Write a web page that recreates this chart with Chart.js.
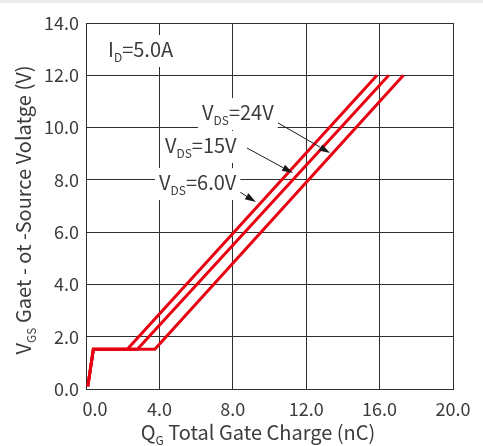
<!DOCTYPE html>
<html>
<head>
<meta charset="utf-8">
<script src="https://cdn.jsdelivr.net/npm/chart.js@4.4.1/dist/chart.umd.min.js"></script>
<style>
  html, body { margin: 0; padding: 0; background: #fff; }
  #wrap { position: relative; width: 483px; height: 446px; }
  #strip { position: absolute; left: 0; top: 0; width: 483px; height: 3px; background: #ebebeb; }
  #gateChart { position: absolute; left: 0; top: 0; }
</style>
</head>
<body>
<div id="wrap">
  <div id="strip"></div>
  <canvas id="gateChart" width="483" height="446"></canvas>
</div>
<script>
// Gate charge curves (Qg in nC, Vgs in V)
const vgsPoints = [0.1, 1.52, 1.52, 12.0];
const qg6V  = [0.1, 0.4, 2.25, 15.86];
const qg15V = [0.1, 0.4, 2.8, 16.5];
const qg24V = [0.1, 0.4, 3.75, 17.3];

const xTicks = [0, 4, 8, 12, 16, 20];
const yTicks = [0, 2, 4, 6, 8, 10, 12, 14];

// Annotation text (parts: [text, isSubscript]) and where it sits, in data units
const noteParts = [
    [['I', false], ['D', true], ['=5.0A', false]],
    [['V', false], ['DS', true], ['=24V', false]],
    [['V', false], ['DS', true], ['=15V', false]],
    [['V', false], ['DS', true], ['=6.0V', false]]
];
const noteX = [1.2, 6.32, 4.3, 3.98];
const noteY = [12.7, 10.29, 9.03, 7.61];   // baseline

// Arrows from label to curve
const arrowFromX = [10.46, 8.77, 8.12];
const arrowFromY = [10.18, 9.22, 7.65];
const arrowToX   = [13.3, 11.28, 9.26];
const arrowToY   = [9.03, 8.26, 7.15];

const FONT = "'Noto Sans CJK SC', 'Noto Sans', sans-serif";
const TEXT = '#3c3c3c';
const GRID = '#2e2e2e';
const RED = '#e60012';

function toXY(xs, ys) {
    return xs.map((v, i) => ({ x: v, y: ys[i] }));
}

function richWidth(ctx, parts, size, subSize) {
    let w = 0;
    parts.forEach(p => {
        ctx.font = (p[1] ? subSize : size) + 'px ' + FONT;
        w += ctx.measureText(p[0]).width;
    });
    return w;
}

function drawRich(ctx, parts, x, baseline, size, subSize) {
    let cx = x;
    ctx.textAlign = 'left';
    ctx.textBaseline = 'alphabetic';
    parts.forEach(p => {
        ctx.font = (p[1] ? subSize : size) + 'px ' + FONT;
        ctx.fillText(p[0], cx, p[1] ? baseline + 5 : baseline);
        cx += ctx.measureText(p[0]).width;
    });
}

const notesPlugin = {
    id: 'notes',
    afterDatasetsDraw(chart) {
        const { ctx, scales: { x, y } } = chart;
        ctx.save();

        // arrows
        ctx.strokeStyle = '#1a1a1a';
        ctx.fillStyle = '#1a1a1a';
        ctx.lineWidth = 1;
        for (let i = 0; i < arrowFromX.length; i++) {
            const x1 = x.getPixelForValue(arrowFromX[i]);
            const y1 = y.getPixelForValue(arrowFromY[i]);
            const x2 = x.getPixelForValue(arrowToX[i]);
            const y2 = y.getPixelForValue(arrowToY[i]);
            const ang = Math.atan2(y2 - y1, x2 - x1);
            const headLen = 11, headW = 3.5;
            const bx = x2 - headLen * Math.cos(ang);
            const by = y2 - headLen * Math.sin(ang);
            ctx.beginPath();
            ctx.moveTo(x1, y1);
            ctx.lineTo(bx, by);
            ctx.stroke();
            ctx.beginPath();
            ctx.moveTo(x2, y2);
            ctx.lineTo(bx + headW * Math.sin(ang), by - headW * Math.cos(ang));
            ctx.lineTo(bx - headW * Math.sin(ang), by + headW * Math.cos(ang));
            ctx.closePath();
            ctx.fill();
        }

        // labels on white boxes
        noteParts.forEach((parts, i) => {
            const px = x.getPixelForValue(noteX[i]);
            const py = y.getPixelForValue(noteY[i]);
            const w = richWidth(ctx, parts, 20, 12);
            ctx.fillStyle = '#fff';
            ctx.fillRect(px - 4, py - 22, w + 8, 32);
            ctx.fillStyle = TEXT;
            drawRich(ctx, parts, px, py, 20, 12);
        });
        ctx.restore();
    },
    afterDraw(chart) {
        const { ctx, chartArea } = chart;
        ctx.save();
        ctx.fillStyle = TEXT;

        // x axis title
        const xt = [['Q', false], ['G', true], [' Total Gate Charge (nC)', false]];
        const xw = richWidth(ctx, xt, 20, 12);
        drawRich(ctx, xt, 258 - xw / 2, chartArea.bottom + 51, 20, 12);

        // y axis title, rotated
        const yt = [['V', false], ['GS', true], [' Gaet - ot -Source Volatge (V)', false]];
        const yw = richWidth(ctx, yt, 20, 12);
        ctx.translate(31, (chartArea.top + chartArea.bottom) / 2 + 4);
        ctx.rotate(-Math.PI / 2);
        drawRich(ctx, yt, -yw / 2, 0, 20, 12);
        ctx.restore();
    }
};

const lineStyle = {
    borderColor: RED,
    borderWidth: 3,
    pointRadius: 0,
    fill: false,
    tension: 0,
    borderJoinStyle: 'miter'
};

const ctx = document.getElementById('gateChart').getContext('2d');
const chart = new Chart(ctx, {
    type: 'scatter',
    data: {
        datasets: [
            { label: 'VDS=6.0V', data: toXY(qg6V, vgsPoints), showLine: true, ...lineStyle },
            { label: 'VDS=15V', data: toXY(qg15V, vgsPoints), showLine: true, ...lineStyle },
            { label: 'VDS=24V', data: toXY(qg24V, vgsPoints), showLine: true, ...lineStyle }
        ]
    },
    options: {
        responsive: false,
        animation: false,
        layout: { padding: { top: 23, right: 30, left: 0, bottom: 0 } },
        plugins: {
            legend: { display: false },
            tooltip: { enabled: false }
        },
        scales: {
            x: {
                type: 'linear',
                min: 0,
                max: 20,
                afterBuildTicks: scale => { scale.ticks = xTicks.map(v => ({ value: v })); },
                afterFit: scale => { scale.height = 57; },
                grid: { color: GRID, lineWidth: 1, drawTicks: false, tickLength: 0 },
                border: { color: GRID, width: 1 },
                ticks: {
                    padding: 9,
                    color: TEXT,
                    font: { family: FONT, size: 18 },
                    // push the first label right so it clears the y "0.0"
                    callback: v => (v === 0 ? '\u2002\u2002' : '') + v.toFixed(1)
                }
            },
            y: {
                type: 'linear',
                min: 0,
                max: 14,
                afterBuildTicks: scale => { scale.ticks = yTicks.map(v => ({ value: v })); },
                afterFit: scale => { scale.width = 86; },
                grid: { color: GRID, lineWidth: 1, drawTicks: false, tickLength: 0 },
                border: { color: GRID, width: 1 },
                ticks: {
                    padding: 7,
                    color: TEXT,
                    font: { family: FONT, size: 18 },
                    callback: v => v.toFixed(1)
                }
            }
        }
    },
    plugins: [notesPlugin]
});
</script>
</body>
</html>
